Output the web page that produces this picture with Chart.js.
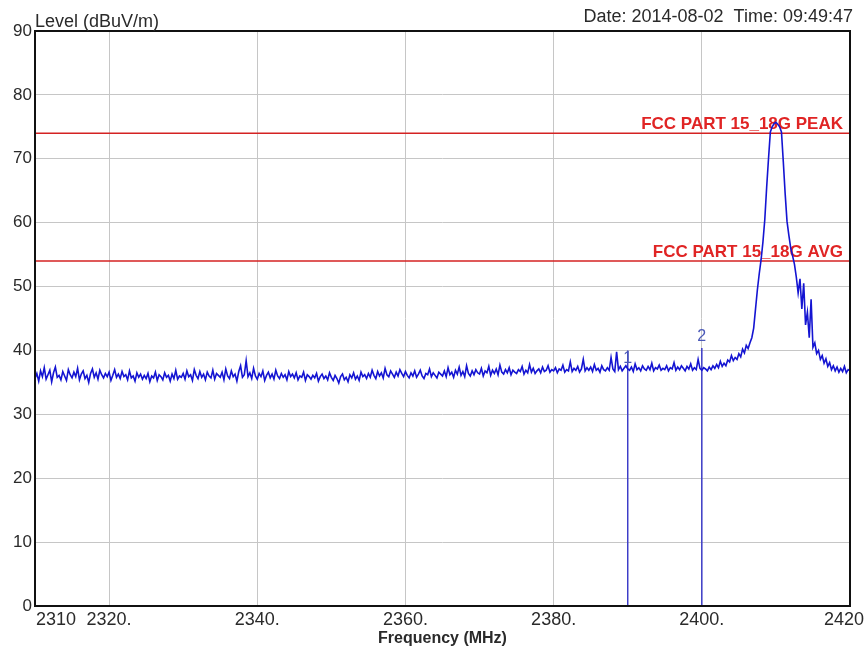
<!DOCTYPE html>
<html><head><meta charset="utf-8">
<script src="https://cdn.jsdelivr.net/npm/chart.js@4.4.1/dist/chart.umd.min.js"></script>
<style>html,body{margin:0;padding:0;background:#fff;}#wrap{width:868px;height:658px;}</style>
</head><body><div id="wrap"><canvas id="c" width="868" height="658"></canvas></div>
<script>
const TRACE_START_MHZ = 2310;
const TRACE_STEP_MHZ = 0.25;
const traceLevels = [
35.6,36.4,35.2,36.8,35.9,37.3,35.5,36.2,36.9,35.1,36.5,37.4,35.8,36.1,35.4,36.7,36.0,35.3,37.0,36.2,
35.7,36.6,35.9,37.2,35.4,36.3,36.8,35.6,36.1,35.0,36.4,37.1,35.8,36.5,35.5,36.9,36.2,35.7,36.4,35.9,
36.6,35.3,36.1,37.0,35.8,36.3,35.6,36.7,35.9,36.2,35.4,36.8,35.7,36.0,35.2,36.5,35.8,36.3,35.5,36.1,
35.6,36.4,35.1,36.0,35.7,36.6,35.3,36.2,35.9,35.4,36.5,35.8,36.1,35.2,36.3,35.6,36.9,35.5,36.0,35.8,
36.4,35.5,36.8,35.9,36.2,35.3,37.0,36.1,35.6,36.7,35.8,36.3,35.4,36.6,36.0,35.7,36.9,35.5,36.4,36.1,
35.8,36.6,35.4,37.1,36.0,35.6,36.8,35.9,36.3,35.2,36.7,37.6,35.8,36.2,38.4,35.9,36.5,35.6,37.2,36.0,
35.5,36.4,35.9,36.8,35.3,36.1,36.6,35.7,36.3,35.5,36.9,36.0,35.6,36.4,35.8,36.2,35.4,36.7,35.9,36.3,
35.7,36.5,35.4,36.0,35.8,36.6,35.3,36.2,35.9,35.5,36.1,35.7,36.4,35.2,35.9,36.3,35.6,36.0,35.4,36.5,
35.8,35.3,36.1,35.6,34.9,35.9,36.3,35.4,35.8,35.1,36.2,35.7,36.5,35.5,36.0,35.3,36.6,35.9,36.2,35.6,
36.4,35.8,36.9,36.1,35.6,36.7,36.0,36.5,35.7,37.2,36.2,35.9,36.8,36.3,35.8,36.6,36.0,37.0,36.4,35.9,
36.7,36.1,35.7,36.5,36.0,36.8,35.8,36.3,36.9,36.0,35.6,36.4,36.2,37.1,35.9,36.5,36.1,35.7,36.6,36.3,
36.0,36.8,35.9,37.3,36.2,36.6,35.8,36.9,36.3,37.4,36.1,36.7,35.9,37.6,36.4,36.0,36.8,36.2,37.0,36.5,
36.3,37.2,36.0,36.8,36.5,37.5,36.1,36.9,36.4,37.1,36.2,37.7,36.6,36.3,37.0,36.5,37.3,36.2,36.9,36.6,
36.4,37.0,36.7,37.5,36.3,36.9,36.5,37.8,36.6,37.2,36.4,36.8,37.1,36.5,37.4,36.7,36.9,37.6,36.6,37.0,
36.8,37.3,36.5,37.1,36.9,37.7,36.6,37.0,36.8,38.2,36.7,37.2,36.9,37.5,36.6,37.1,38.6,36.8,37.3,36.9,
37.4,36.7,37.8,36.9,37.2,36.6,37.6,37.0,36.8,37.3,36.9,38.9,37.1,36.7,39.8,37.0,37.5,36.8,37.2,37.6,
37.1,36.9,37.4,36.7,37.9,37.0,37.3,36.8,37.6,37.1,36.9,37.5,37.0,38.0,36.8,37.3,37.1,37.7,36.9,37.2,
37.0,37.6,36.8,37.3,37.1,38.1,36.9,37.4,37.0,37.6,37.2,36.8,37.5,37.1,37.9,36.9,37.3,37.0,38.6,37.2,
36.9,37.3,37.1,36.8,37.4,37.0,37.6,37.2,37.8,37.3,38.3,37.5,38.0,37.6,38.5,38.2,39.2,38.4,38.9,38.6,
39.5,39.0,40.2,39.6,40.8,40.3,41.2,42.0,43.5,46.5,49.5,52.0,54.2,57.0,60.5,65.5,70.0,74.2,75.0,75.5,
75.7,75.4,75.0,74.2,69.5,64.5,60.2,58.0,56.0,54.8,53.5,51.5,49.0,51.2,46.5,50.5,44.0,46.0,42.0,48.0,
40.5,41.2,39.5,40.0,38.6,39.2,38.0,38.7,37.5,38.1,37.0,37.6,36.8,37.4,36.6,37.2,36.7,37.5,36.5,37.0,
36.8
];
const xMinMHz = 2310;
const xMaxMHz = 2420;
const xTickValues = [2310, 2320, 2340, 2360, 2380, 2400, 2420];
const xTickLabels = ['2310', '2320.', '2340.', '2360.', '2380.', '2400.', '2420'];
const yMinLevel = 0;
const yMaxLevel = 90;
const yStep = 10;
const limitNames = ['FCC PART 15_18G PEAK', 'FCC PART 15_18G AVG'];
const limitLevels = [74, 54];
const markerNames = ['1', '2'];
const markerFreqs = [2390, 2400];
const markerTops = [40.0, 40.4];
const markerLabelLevels = [38.8, 42.1];
const yAxisTitle = 'Level (dBuV/m)';
const xAxisTitle = 'Frequency (MHz)';
const dateText = 'Date: 2014-08-02  Time: 09:49:47';

const FONT = '"Liberation Sans", Arial, sans-serif';
const tracePoints = traceLevels.map((v, i) => ({x: TRACE_START_MHZ + i * TRACE_STEP_MHZ, y: v}));

const datasets = [{
  data: tracePoints, borderColor: '#1414d2', borderWidth: 1.6, pointRadius: 0, tension: 0, order: 0
}];
markerFreqs.forEach((f, i) => datasets.push({
  data: [{x: f, y: yMinLevel}, {x: f, y: markerTops[i]}],
  borderColor: '#3d3dc8', borderWidth: 1.5, pointRadius: 0, order: 1
}));
limitLevels.forEach(lv => datasets.push({
  data: [{x: xMinMHz, y: lv}, {x: xMaxMHz, y: lv}],
  borderColor: '#d42222', borderWidth: 1.5, pointRadius: 0, order: 2
}));

const decor = {
  id: 'decor',
  beforeDatasetsDraw(chart) {
    const {ctx, chartArea: a, scales: {y}} = chart;
    ctx.save();
    ctx.font = 'bold 17px ' + FONT;
    ctx.fillStyle = '#e02424';
    ctx.textAlign = 'right';
    ctx.textBaseline = 'alphabetic';
    limitLevels.forEach((lv, i) => ctx.fillText(limitNames[i], a.right - 7, y.getPixelForValue(lv) - 4));
    ctx.restore();
  },
  afterDatasetsDraw(chart) {
    const {ctx, chartArea: a, scales: {x, y}} = chart;
    ctx.save();
    ctx.font = '16px ' + FONT;
    ctx.fillStyle = '#4a58b8';
    ctx.textAlign = 'center';
    ctx.textBaseline = 'middle';
    markerFreqs.forEach((f, i) => ctx.fillText(markerNames[i], x.getPixelForValue(f), y.getPixelForValue(markerLabelLevels[i])));
    ctx.strokeStyle = '#111';
    ctx.lineWidth = 2;
    ctx.strokeRect(a.left, a.top, a.right - a.left, a.bottom - a.top);
    ctx.font = '18px ' + FONT;
    ctx.fillStyle = '#2a2a2a';
    ctx.textBaseline = 'top';
    xTickValues.forEach((v, i) => {
      const px = x.getPixelForValue(v);
      if (i === 0) { ctx.textAlign = 'left'; ctx.fillText(xTickLabels[i], px + 1, a.bottom + 5); }
      else if (i === xTickValues.length - 1) { ctx.textAlign = 'center'; ctx.fillText(xTickLabels[i], px - 6, a.bottom + 5); }
      else { ctx.textAlign = 'center'; ctx.fillText(xTickLabels[i], px, a.bottom + 5); }
    });
    ctx.textBaseline = 'alphabetic';
    ctx.font = 'bold 16px ' + FONT;
    ctx.textAlign = 'center';
    ctx.fillText(xAxisTitle, (a.left + a.right) / 2, 643);
    ctx.font = '18px ' + FONT;
    ctx.textAlign = 'left';
    ctx.fillText(yAxisTitle, 35, 27);
    ctx.textAlign = 'right';
    ctx.fillText(dateText, 853, 22);
    ctx.restore();
  }
};

new Chart(document.getElementById('c'), {
  type: 'line',
  data: {datasets},
  plugins: [decor],
  options: {
    responsive: false, animation: false, devicePixelRatio: 1,
    layout: {padding: {top: 31, left: 0, right: 18, bottom: 0}},
    plugins: {legend: {display: false}, tooltip: {enabled: false}},
    elements: {line: {tension: 0}},
    scales: {
      x: {
        type: 'linear', min: xMinMHz, max: xMaxMHz,
        afterBuildTicks: s => { s.ticks = xTickValues.map(v => ({value: v})); },
        afterFit: s => { s.height = 52; },
        ticks: {display: false},
        grid: {color: '#c6c6c6', lineWidth: 1, drawTicks: false},
        border: {display: false}
      },
      y: {
        min: yMinLevel, max: yMaxLevel,
        ticks: {stepSize: yStep, color: '#2a2a2a', font: {family: FONT, size: 17}, padding: 3},
        afterFit: s => { s.width = 35; },
        grid: {color: '#c6c6c6', lineWidth: 1, drawTicks: false},
        border: {display: false}
      }
    }
  }
});
</script></body></html>
